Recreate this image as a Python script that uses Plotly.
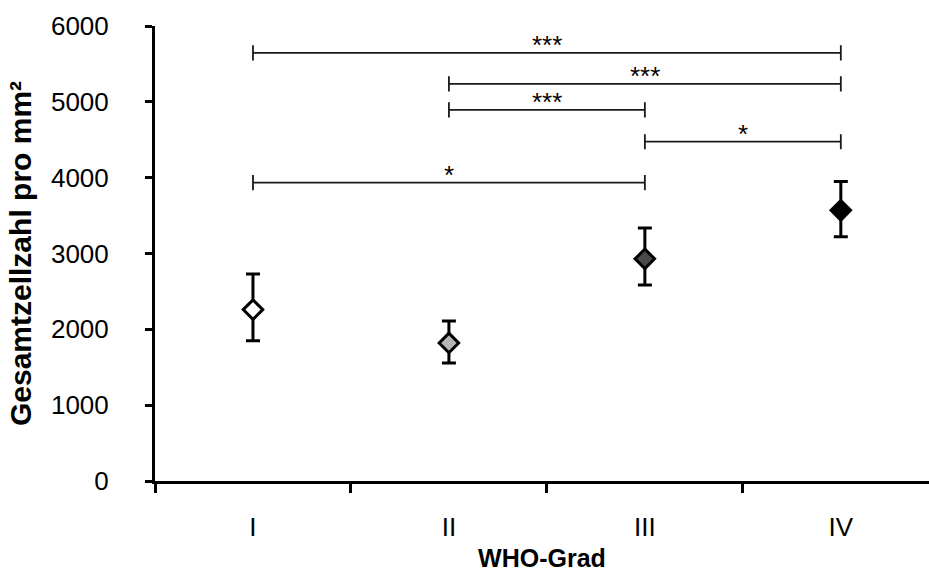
import plotly.graph_objects as go

# WHO grades and cell counts per mm² (mean with error range)
grades = ["I", "II", "III", "IV"]
mean_count = [2260, 1820, 2930, 3570]
upper_count = [2730, 2110, 3335, 3950]
lower_count = [1850, 1555, 2585, 3220]
marker_fill = ["#ffffff", "#b5b5b5", "#4a4a4a", "#000000"]

# significance comparisons: (from grade index, to grade index, bracket level, label)
comp_from = [0, 1, 1, 2, 0]
comp_to = [3, 3, 2, 3, 2]
comp_level = [5645, 5237, 4895, 4474, 3934]
comp_label = ["***", "***", "***", "*", "*"]

FONT = "Liberation Sans, Arial, sans-serif"
END_TICK = 100  # half height of bracket end ticks (data units)

x_pos = list(range(len(grades)))

fig = go.Figure()

# significance brackets
for a, b, lvl, lab in zip(comp_from, comp_to, comp_level, comp_label):
    fig.add_trace(go.Scatter(
        x=[a, a, a, b, b, b],
        y=[lvl + END_TICK, lvl - END_TICK, lvl, lvl, lvl + END_TICK, lvl - END_TICK],
        mode="lines",
        line=dict(color="#1a1a1a", width=1.8),
        hoverinfo="skip",
        showlegend=False,
    ))
    fig.add_annotation(
        x=(a + b) / 2, y=lvl, text=lab, showarrow=False,
        yanchor="middle", yshift=8,
        font=dict(family=FONT, size=26, color="black"),
    )

# means with error bars
fig.add_trace(go.Scatter(
    x=x_pos,
    y=mean_count,
    mode="markers",
    marker=dict(symbol="diamond", size=15, color=marker_fill,
                line=dict(color="black", width=3)),
    error_y=dict(
        type="data", symmetric=False,
        array=[u - m for u, m in zip(upper_count, mean_count)],
        arrayminus=[m - l for m, l in zip(mean_count, lower_count)],
        color="black", thickness=3, width=7,
    ),
    showlegend=False,
))

fig.update_layout(
    width=929, height=572,
    margin=dict(l=155, r=0, t=26, b=89),
    paper_bgcolor="white", plot_bgcolor="white",
    font=dict(family=FONT, color="black"),
    showlegend=False,
)

fig.update_xaxes(
    range=[-0.5, 3.45],
    tickmode="array", tickvals=x_pos, ticktext=grades,
    ticks="", ticklabelstandoff=21,
    tickfont=dict(size=26),
    minor=dict(tickmode="linear", tick0=-0.5, dtick=1, ticks="outside",
               ticklen=9, tickwidth=2.5, tickcolor="black"),
    showline=True, linecolor="black", linewidth=3,
    showgrid=False, zeroline=False,
    title=dict(text="<b>WHO-Grad</b>", font=dict(size=25), standoff=12),
)

fig.update_yaxes(
    range=[0, 6000], dtick=1000,
    ticks="outside", ticklen=7, tickwidth=2.5, tickcolor="black",
    ticklabelstandoff=31,
    tickfont=dict(size=26),
    showline=True, linecolor="black", linewidth=3,
    showgrid=False, zeroline=False,
    title=dict(text="<b>Gesamtzellzahl pro mm²</b>", font=dict(size=30), standoff=11),
)

fig.write_html("out.html")
